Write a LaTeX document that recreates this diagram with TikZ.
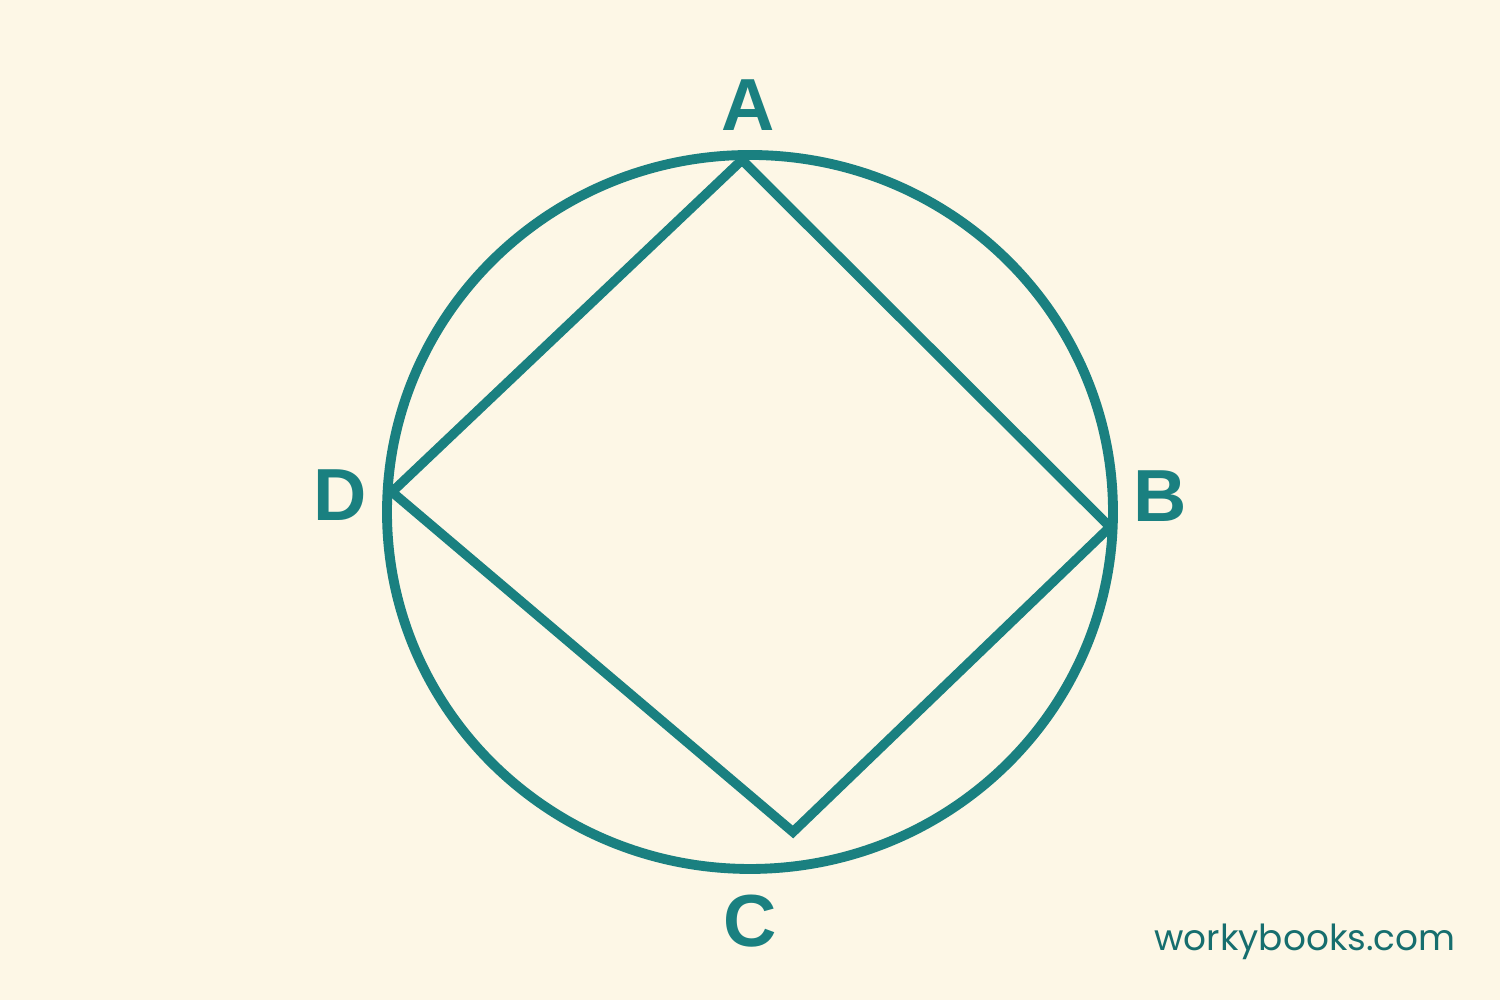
\documentclass[tikz,border=0pt]{standalone}
\usepackage{fontspec}
\setmainfont{Liberation Sans}
\newfontfamily\webfont{Poppins}
\usepackage{xcolor}
\usepackage{tikz}
\usetikzlibrary{calc}
\usetikzlibrary{positioning}
\definecolor{paper}{RGB}{253,247,230}
\definecolor{teal1}{RGB}{26,128,128}
\definecolor{teal2}{RGB}{22,110,110}
\tikzstyle{vlabel} = [text=teal1, font=\fontsize{21}{21}\selectfont\bfseries, inner sep=0pt]
\tikzstyle{edge} = [draw=teal1, line width=2.7pt, line join=miter]

\begin{document}
\begin{tikzpicture}
\fill [paper] (0, 0) rectangle (15, 10);
\useasboundingbox (0, 0) rectangle (15, 10);
\draw [draw=teal1, line width=2.8pt] (7.5, 4.88) ellipse [x radius=3.63, y radius=3.57];
\coordinate (A) at (7.42, 8.40);
\coordinate (B) at (11.10, 4.73);
\coordinate (C) at (7.93, 1.68);
\coordinate (D) at (3.92, 5.08);
\draw [edge] (A) -- (B) -- (C) -- (D) -- cycle;
\node [vlabel] (LA) at (7.48, 8.95) {A};
\node [vlabel] (LB) at (11.60, 5.04) {B};
\node [vlabel] (LC) at (7.50, 0.79) {C};
\node [vlabel] (LD) at (3.40, 5.05) {D};
\node [text=teal2, font=\webfont\fontsize{10.2}{10.2}\selectfont, inner sep=0pt] (web) at (13.05, 0.58) {workybooks.com};
\end{tikzpicture}
\end{document}
